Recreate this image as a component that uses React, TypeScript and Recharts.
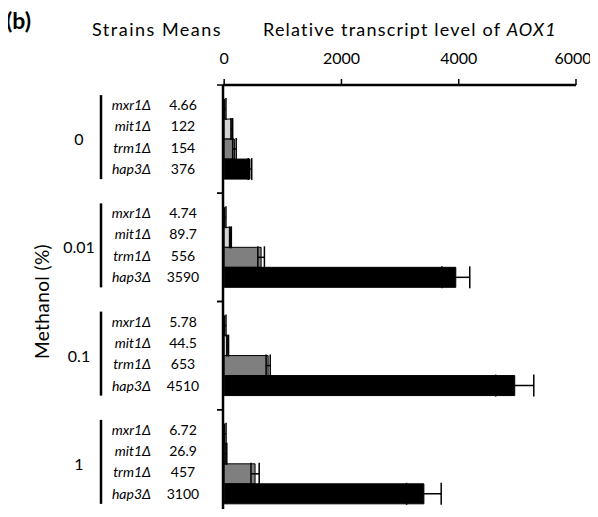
import { BarChart, Bar, XAxis, YAxis, ErrorBar } from 'recharts';

const methanol = ['0', '0.01', '0.1', '1'];
const strains = ['mxr1Δ', 'mit1Δ', 'trm1Δ', 'hap3Δ'];
const strainColors = ['#ffffff', '#d4d4d4', '#7f7f7f', '#000000'];
const meansText = [
  ['4.66', '122', '154', '376'],
  ['4.74', '89.7', '556', '3590'],
  ['5.78', '44.5', '653', '4510'],
  ['6.72', '26.9', '457', '3100'],
];

// bar lengths / errors
const mxr1 = [5, 5, 6, 7];
const mit1 = [130, 107, 60, 30];
const trm1 = [175, 630, 750, 527];
const hap3 = [440, 3950, 4955, 3406];
const mxr1Err = [25, 25, 25, 25];
const mit1Err = [15, 15, 15, 15];
const trm1Err = [30, 56, 35, 70];
const hap3Err = [30, 238, 325, 295];
const xTicks = [0, 2000, 4000, 6000];

const data = methanol.map((m, i) => ({
  methanol: m,
  mxr1: mxr1[i], mxr1Err: mxr1Err[i],
  mit1: mit1[i], mit1Err: mit1Err[i],
  trm1: trm1[i], trm1Err: trm1Err[i],
  hap3: hap3[i], hap3Err: hap3Err[i],
}));

const W = 598;
const H = 528;
const margin = { top: 55, right: 22, bottom: 10, left: 0 };
const xAxisH = 30;
const yAxisW = 223;
const band = (H - margin.top - xAxisH - margin.bottom) / methanol.length;
const font = 'Lato, "Open Sans", sans-serif';
const rowOffsets = [-34, -13, 8.5, 30];

const renderXTick = ({ x, y, payload, index }: any) => {
  // last label sits a little left of its tick in the original
  const dx = index === xTicks.length - 1 ? -3 : 0;
  return (
    <text x={x + dx} y={y} textAnchor="middle" fontSize={16} fontFamily={font} fill="#000">
      {payload.value}
    </text>
  );
};

const renderYTick = ({ y, payload, index }: any) => {
  const i = typeof index === 'number' ? index : methanol.indexOf(payload.value);
  const means = meansText[i] || [];
  return (
    <g>
      <line x1={yAxisW - 6} x2={yAxisW} y1={y - band / 2} y2={y - band / 2} stroke="#000" strokeWidth={1.5} />
      <line x1={yAxisW - 6} x2={yAxisW} y1={y + band / 2} y2={y + band / 2} stroke="#000" strokeWidth={1.5} />
      <text x={79} y={y + 6} textAnchor="middle" fontSize={16} fontFamily={font} fill="#000">
        {payload.value}
      </text>
      <line x1={101} x2={101} y1={y - 44} y2={y + 40} stroke="#000" strokeWidth={2.5} />
      {strains.map((s, k) => (
        <text key={s} x={151} y={y + rowOffsets[k] + 5} textAnchor="end" fontSize={14} fontStyle="italic" fontFamily={font} fill="#000">
          {s}
        </text>
      ))}
      {means.map((m, k) => (
        <text key={k} x={183} y={y + rowOffsets[k] + 5} textAnchor="middle" fontSize={14} fontFamily={font} fill="#000">
          {m}
        </text>
      ))}
    </g>
  );
};

const renderYLabel = ({ viewBox }: any) => {
  const cy = viewBox ? viewBox.y + viewBox.height / 2 : 301;
  return (
    <text x={41} y={cy} transform={`rotate(-90, 41, ${cy})`} textAnchor="middle" dominantBaseline="central" fontSize={19} letterSpacing={0.4} fontFamily={font} fill="#000">
      Methanol (%)
    </text>
  );
};

export default function App() {
  const keys = ['mxr1', 'mit1', 'trm1', 'hap3'];
  return (
    <div style={{ position: 'relative', margin: -8, width: W, height: 517, overflow: 'hidden', background: '#fff' }}>
      <BarChart
        width={W}
        height={H}
        data={data}
        layout="vertical"
        margin={margin}
        barCategoryGap="13%"
        barGap={0}
      >
        <XAxis
          type="number"
          orientation="top"
          domain={[0, 6000]}
          ticks={xTicks}
          interval={0}
          height={xAxisH}
          axisLine={{ stroke: '#000', strokeWidth: 2.5 }}
          tickLine={{ stroke: '#000', strokeWidth: 1.5 }}
          tickSize={6}
          tickMargin={15}
          tick={renderXTick}
        />
        <YAxis
          type="category"
          dataKey="methanol"
          width={yAxisW}
          axisLine={{ stroke: '#000', strokeWidth: 2.5 }}
          tickLine={false}
          tick={renderYTick}
          interval={0}
          label={renderYLabel}
        />
        {keys.map((k, i) => (
          <Bar key={k} dataKey={k} fill={strainColors[i]} stroke="#000" strokeWidth={1} isAnimationActive={false}>
            <ErrorBar dataKey={`${k}Err`} direction="x" width={11} stroke="#000" strokeWidth={1.5} />
          </Bar>
        ))}
      </BarChart>
      <svg width={W} height={517} style={{ position: 'absolute', left: 0, top: 0, pointerEvents: 'none' }}>
        <text x={6} y={29} fontSize={23} fontWeight="bold" fontFamily={font} fill="#000">(b)</text>
        <text x={92} y={36} fontSize={18} letterSpacing={1.5} fontFamily={font} fill="#000">Strains Means</text>
        <text x={263} y={36} fontSize={18} letterSpacing={1.2} fontFamily={font} fill="#000">
          Relative transcript level of <tspan fontStyle="italic">AOX1</tspan>
        </text>
      </svg>
    </div>
  );
}
